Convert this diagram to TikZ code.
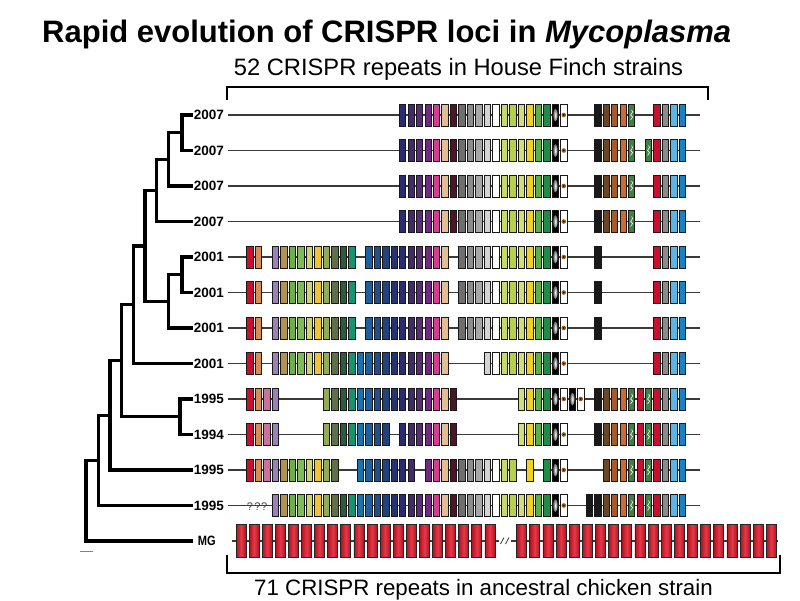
\documentclass[tikz,border=0pt]{standalone}
\usepackage{fontspec}
\setmainfont{Liberation Sans}
\definecolor{k0}{HTML}{C8102E}
\definecolor{k1}{HTML}{D98C55}
\definecolor{k2}{HTML}{C7739B}
\definecolor{k3}{HTML}{9C80B8}
\definecolor{k4}{HTML}{B19255}
\definecolor{k5}{HTML}{6DAF4B}
\definecolor{k6}{HTML}{80BC55}
\definecolor{k7}{HTML}{CAD76C}
\definecolor{k8}{HTML}{F2C335}
\definecolor{k9}{HTML}{93AB57}
\definecolor{k10}{HTML}{5F7049}
\definecolor{k11}{HTML}{2E5B3D}
\definecolor{k12}{HTML}{17936F}
\definecolor{k13}{HTML}{1B70AF}
\definecolor{k14}{HTML}{1D5FA0}
\definecolor{k15}{HTML}{1F4F8F}
\definecolor{k16}{HTML}{22417F}
\definecolor{k17}{HTML}{253370}
\definecolor{k18}{HTML}{2B2B6F}
\definecolor{k19}{HTML}{3F2B6D}
\definecolor{k20}{HTML}{5B2B79}
\definecolor{k21}{HTML}{6F2B7F}
\definecolor{k22}{HTML}{D63D8D}
\definecolor{k23}{HTML}{E4BD95}
\definecolor{k24}{HTML}{4F1527}
\definecolor{k25}{HTML}{6F6F6F}
\definecolor{k26}{HTML}{8D8D8D}
\definecolor{k27}{HTML}{A7A7A7}
\definecolor{k28}{HTML}{D3D3D3}
\definecolor{k29}{HTML}{FFFFFF}
\definecolor{k30}{HTML}{C6DA6B}
\definecolor{k31}{HTML}{B7D04B}
\definecolor{k32}{HTML}{D0E071}
\definecolor{k33}{HTML}{F1D121}
\definecolor{k34}{HTML}{5EB046}
\definecolor{k35}{HTML}{1F8C46}
\definecolor{k42}{HTML}{6C4524}
\definecolor{k43}{HTML}{A65B2D}
\definecolor{k44}{HTML}{CD6B30}
\definecolor{k45}{HTML}{407F40}
\definecolor{k46}{HTML}{C8102E}
\definecolor{k49}{HTML}{8B8B8B}
\definecolor{k50}{HTML}{5DB4E7}
\definecolor{k51}{HTML}{1C80C5}
\definecolor{spb}{HTML}{9A5A20}
\definecolor{mgdk}{HTML}{B80F1E}
\definecolor{mglt}{HTML}{E23A48}
\definecolor{rowc}{HTML}{3A3A3A}
\tikzset{
  sp/.style={rectangle, draw=black!90, line width=0.7pt, minimum width=6.4pt, minimum height=22pt, inner sep=0pt, outer sep=0pt},
  mgbox/.style={rectangle, draw=black!85, line width=0.7pt, minimum width=10pt, minimum height=33pt, inner sep=0pt, outer sep=0pt, left color=mgdk, right color=mgdk, middle color=mglt},
  glow/.style={fill=black, path picture={\shade[inner color=white, outer color=black] (path picture bounding box.center) ellipse (2.4pt and 6.5pt);}},
  spec/.style={fill=white, path picture={\fill[spb] (path picture bounding box.center) circle (2.3pt); \fill[black] (path picture bounding box.center) circle (0.8pt);}},
  gpat/.style={fill=k45, path picture={\draw[white, line width=0.6pt] ([xshift=-1pt,yshift=-5pt]path picture bounding box.center) -- ++(2pt,3pt) -- ++(-2pt,2pt) -- ++(2pt,3pt) -- ++(-1pt,2pt);}},
  s0/.style={fill=k0}, s1/.style={fill=k1}, s2/.style={fill=k2}, s3/.style={fill=k3},
  s4/.style={fill=k4}, s5/.style={fill=k5}, s6/.style={fill=k6}, s7/.style={fill=k7},
  s8/.style={fill=k8}, s9/.style={fill=k9}, s10/.style={fill=k10}, s11/.style={fill=k11},
  s12/.style={fill=k12}, s13/.style={fill=k13}, s14/.style={fill=k14}, s15/.style={fill=k15},
  s16/.style={fill=k16}, s17/.style={fill=k17}, s18/.style={fill=k18}, s19/.style={fill=k19},
  s20/.style={fill=k20}, s21/.style={fill=k21}, s22/.style={fill=k22}, s23/.style={fill=k23},
  s24/.style={fill=k24}, s25/.style={fill=k25}, s26/.style={fill=k26}, s27/.style={fill=k27},
  s28/.style={fill=k28}, s29/.style={fill=k29}, s30/.style={fill=k30}, s31/.style={fill=k31},
  s32/.style={fill=k32}, s33/.style={fill=k33}, s34/.style={fill=k34}, s35/.style={fill=k35},
  s36/.style={glow}, s37/.style={spec}, s38/.style={glow}, s39/.style={spec},
  s40/.style={fill=black!90}, s41/.style={fill=black!90}, s42/.style={fill=k42}, s43/.style={fill=k43},
  s44/.style={fill=k44}, s45/.style={gpat}, s46/.style={fill=k46}, s47/.style={gpat},
  s48/.style={fill=k46}, s49/.style={fill=k49}, s50/.style={fill=k50}, s51/.style={fill=k51},
  tree/.style={line width=3.2pt, black, line join=miter},
  rowline/.style={line width=1.3pt, rowc},
  brk/.style={line width=2pt, black},
  lab/.style={anchor=east, inner sep=0pt, font=\bfseries\fontsize{13.5}{13.5}\selectfont},
}
\newcommand\crsp[4]{\foreach \k in {#3,...,#4}{\node[sp, s\k] (#1-\k) at ({250+8.48*\k},#2) {};}}
\newcommand\crone[3]{\node[sp, s#3] (#1-#3) at ({250+8.48*#3},#2) {};}
\begin{document}
\begin{tikzpicture}[x=1pt,y=-1pt]
\useasboundingbox[fill=white] (0,0) rectangle (800,600);
% titles
\node[anchor=base west, inner sep=0pt, font=\bfseries\fontsize{31}{31}\selectfont] (title) at (42,42) {Rapid evolution of CRISPR loci in \textit{Mycoplasma}};
\node[anchor=base, inner sep=0pt, font=\fontsize{23.7}{24}\selectfont] (sub) at (458.5,75) {52 CRISPR repeats in House Finch strains};
\node[anchor=base, inner sep=0pt, font=\fontsize{22.3}{23}\selectfont] (bot) at (483.5,595) {71 CRISPR repeats in ancestral chicken strain};
% brackets
\coordinate (tb1) at (227,100); \coordinate (tb2) at (227,87);
\coordinate (tb3) at (708,87); \coordinate (tb4) at (708,100);
\draw[brk] (tb1) -- (tb2) -- (tb3) -- (tb4);
\coordinate (bb1) at (226.7,555); \coordinate (bb2) at (226.7,573.3);
\coordinate (bb3) at (780,573.3); \coordinate (bb4) at (780,555);
\draw[brk] (bb1) -- (bb2) -- (bb3) -- (bb4);
% row lines
\foreach \y [count=\i] in {115,150.5,186,221.5,257,292.5,328,363.5,399,434.5,470,505.5}{
  \coordinate (ra\i) at (228,\y); \coordinate (rb\i) at (700,\y);
  \draw[rowline] (ra\i) -- (rb\i);
}
% labels
\foreach \y/\t [count=\i] in {115/2007,150.5/2007,186/2007,221.5/2007,257/2001,292.5/2001,328/2001,363.5/2001,399/1995,434.5/1994,470/1995,505.5/1995}{
  \node[lab] (lab\i) at (224,\y) {\t};
}
\node[lab] (labMG) at (216,541) {\scalebox{0.82}[1]{MG}};
% tree
\foreach \y [count=\i] in {115,150.5,186,221.5,257,292.5,328,363.5,399,434.5,470,505.5,541}{
  \coordinate (L\i) at (193,\y);
}
\coordinate (n12) at (182,132.75);
\coordinate (n123) at (168.3,159.4);
\coordinate (n1234) at (156.7,190.5);
\coordinate (n56) at (182,274.75);
\coordinate (n567) at (168.3,301.4);
\coordinate (n1to7) at (145,246);
\coordinate (n1to8) at (133.3,304.7);
\coordinate (n910) at (180,416.75);
\coordinate (n1to10) at (121.7,360.7);
\coordinate (n1to11) at (110,415.4);
\coordinate (n1to12) at (98.3,460.4);
\coordinate (root) at (86,500.7);
\draw[tree] (L1) -| (n12) |- (L2);
\draw[tree] (n12) -| (n123) |- (L3);
\draw[tree] (n123) -| (n1234) |- (L4);
\draw[tree] (L5) -| (n56) |- (L6);
\draw[tree] (n56) -| (n567) |- (L7);
\draw[tree] (n1234) -| (n1to7) |- (n567);
\draw[tree] (n1to7) -| (n1to8) |- (L8);
\draw[tree] (L9) -| (n910) |- (L10);
\draw[tree] (n1to8) -| (n1to10) |- (n910);
\draw[tree] (n1to10) -| (n1to11) |- (L11);
\draw[tree] (n1to11) -| (n1to12) |- (L12);
\draw[tree] (n1to12) -| (root) |- (L13);
\coordinate (sb1) at (80,551.7); \coordinate (sb2) at (92.7,551.7);
\draw[gray, line width=0.8pt] (sb1) -- (sb2);
% spacer rows
\crsp{r1}{115}{18}{37}\crsp{r1}{115}{41}{45}\crsp{r1}{115}{48}{51}
\crsp{r2}{150.5}{18}{37}\crsp{r2}{150.5}{41}{45}\crone{r2}{150.5}{47}\crsp{r2}{150.5}{48}{51}
\crsp{r3}{186}{18}{37}\crsp{r3}{186}{41}{45}\crsp{r3}{186}{48}{51}
\crsp{r4}{221.5}{18}{37}\crsp{r4}{221.5}{41}{45}\crsp{r4}{221.5}{48}{51}
\foreach \y/\r in {257/r5,292.5/r6,328/r7}{
  \crsp{\r}{\y}{0}{1}\crsp{\r}{\y}{3}{12}\crsp{\r}{\y}{14}{23}\crsp{\r}{\y}{25}{37}\crone{\r}{\y}{41}\crsp{\r}{\y}{48}{51}
}
\crsp{r8}{363.5}{0}{1}\crsp{r8}{363.5}{3}{23}\crsp{r8}{363.5}{28}{37}\crsp{r8}{363.5}{48}{51}
\crsp{r9}{399}{0}{3}\crsp{r9}{399}{9}{24}\crsp{r9}{399}{32}{39}\crsp{r9}{399}{41}{51}
\crsp{r10}{434.5}{0}{3}\crsp{r10}{434.5}{9}{16}\crsp{r10}{434.5}{18}{24}\crsp{r10}{434.5}{32}{37}\crsp{r10}{434.5}{41}{51}
\crsp{r11}{470}{0}{10}\crsp{r11}{470}{13}{19}\crsp{r11}{470}{21}{31}\crone{r11}{470}{33}\crsp{r11}{470}{35}{37}\crsp{r11}{470}{42}{51}
\crsp{r12}{505.5}{3}{37}\crsp{r12}{505.5}{40}{51}
\node[inner sep=0pt, font=\fontsize{11}{11}\selectfont, text=black!75] (qq) at (257,507) {?\hspace{1.5pt}?\hspace{0.5pt}?};
% MG row
\coordinate (mga) at (232,541); \coordinate (mgb) at (499,541);
\coordinate (mgc) at (511,541); \coordinate (mge) at (778,541);
\draw[rowline] (mga) -- (mgb);
\draw[rowline] (mgc) -- (mge);
\coordinate (sl1) at (500.5,544); \coordinate (sl2) at (504,537.5);
\coordinate (sl3) at (505.5,544); \coordinate (sl4) at (509,537.5);
\draw[rowc, line width=0.8pt] (sl1) -- (sl2);
\draw[rowc, line width=0.8pt] (sl3) -- (sl4);
\foreach \i in {0,...,19}{
  \node[mgbox] (mgl\i) at ({241+13.1*\i},540.5) {};
  \node[mgbox] (mgr\i) at ({521.7+13.14*\i},540.5) {};
}
\end{tikzpicture}
\end{document}
